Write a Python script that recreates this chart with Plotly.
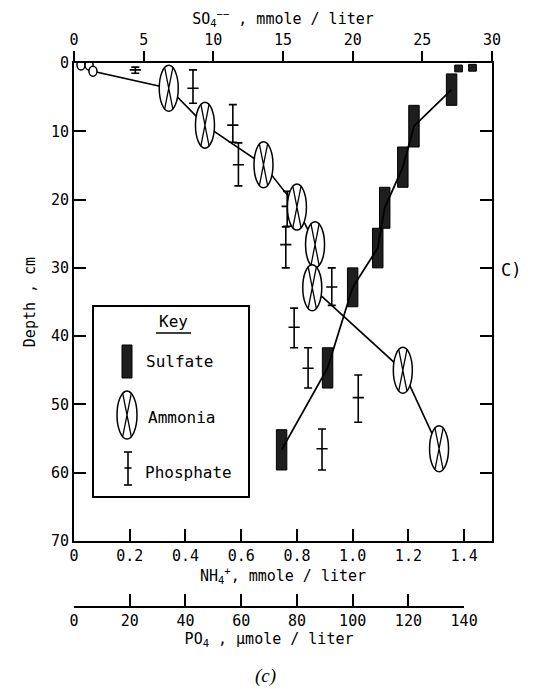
import plotly.graph_objects as go

# ---------------- data ----------------
# Ammonia (NH4+, mmole/liter) vs depth (cm)
nh4_depth = [0.3, 0.3, 1.2, 3.7, 9.1, 14.9, 21.1, 26.6, 32.9, 45.0, 56.5]
nh4_conc = [0.025, 0.054, 0.068, 0.34, 0.47, 0.68, 0.80, 0.865, 0.855, 1.18, 1.31]

# Sulfate (SO4--, mmole/liter): depth intervals of each core section
so4_top = [0.2, 0.3, 1.6, 6.2, 12.3, 18.2, 24.2, 30.0, 41.7, 53.7]
so4_bottom = [1.2, 1.3, 6.2, 12.3, 18.2, 24.2, 30.0, 35.7, 47.6, 59.6]
so4_conc = [28.6, 27.6, 27.1, 24.4, 23.6, 22.3, 21.8, 20.0, 18.2, 14.9]

# Phosphate (PO4, umole/liter): value, depth and depth range
po4_conc = [22, 42.7, 57, 59, 76.5, 76, 92.5, 79, 84, 102, 89]
po4_depth = [1.0, 3.7, 9.1, 14.9, 21.0, 26.6, 32.8, 38.7, 44.7, 49.0, 56.5]
po4_top = [0.6, 1.0, 6.1, 11.7, 18.8, 24.0, 30.0, 35.9, 41.7, 45.7, 53.6]
po4_bottom = [1.5, 5.9, 11.6, 18.0, 23.9, 30.0, 35.5, 41.7, 47.6, 52.6, 59.6]

# tick labels
depth_ticks = [0, 10, 20, 30, 40, 50, 60, 70]
nh4_ticks = [0, 0.2, 0.4, 0.6, 0.8, 1.0, 1.2, 1.4]
nh4_ticklabels = ["0", "0.2", "0.4", "0.6", "0.8", "1.0", "1.2", "1.4"]
so4_ticks = [0, 5, 10, 15, 20, 25, 30]
po4_ticks = [0, 20, 40, 60, 80, 100, 120, 140]

# ---------------- figure ----------------
OFF = 8                              # page body margin of the browser
W, H = 541 - OFF, 689 - OFF
L, R, T, B = 74, 492, 63, 607        # plot-area box in window pixels
MAIN_BOTTOM = 541                    # bottom of the depth axis
FONT = "DejaVu Sans Mono"

def paper(px, py):
    return (px - L) / (R - L), (B - py) / (B - T)

fig = go.Figure()

# ammonia connecting line
fig.add_trace(go.Scatter(
    x=nh4_conc, y=nh4_depth, mode="lines", xaxis="x", yaxis="y",
    line=dict(color="black", width=1.6), showlegend=False, hoverinfo="skip"))

# sulfate connecting line (through section mid-depths)
so4_mid = [(t + b) / 2 for t, b in zip(so4_top, so4_bottom)]
fig.add_trace(go.Scatter(
    x=so4_conc[2:], y=so4_mid[2:], mode="lines", xaxis="x2", yaxis="y",
    line=dict(color="black", width=1.8), showlegend=False, hoverinfo="skip"))

# sulfate bars
fig.add_trace(go.Bar(
    x=so4_conc, y=[b - t for t, b in zip(so4_top, so4_bottom)], base=so4_top,
    width=[0.55 if (b - t) < 2 else 0.75 for t, b in zip(so4_top, so4_bottom)],
    marker=dict(color="#1e1e1e", line=dict(color="black", width=1)),
    xaxis="x2", yaxis="y", showlegend=False, hoverinfo="skip"))

# phosphate error bars
fig.add_trace(go.Scatter(
    x=po4_conc, y=po4_depth, mode="markers", xaxis="x3", yaxis="y",
    marker=dict(symbol="line-ew", size=8, color="black",
                line=dict(width=1.6, color="black")),
    error_y=dict(type="data", symmetric=False,
                 array=[b - d for d, b in zip(po4_depth, po4_bottom)],
                 arrayminus=[d - t for d, t in zip(po4_depth, po4_top)],
                 color="black", thickness=1.6, width=4),
    showlegend=False, hoverinfo="skip"))

shapes = []

def ellipse_shapes(xref, yref, xa, ya, w, h, cross=True):
    out = [dict(type="circle", xref=xref, yref=yref, xsizemode="pixel",
                ysizemode="pixel", xanchor=xa, yanchor=ya,
                x0=-w / 2, x1=w / 2, y0=-h / 2, y1=h / 2,
                fillcolor="white", line=dict(color="black", width=1.5),
                layer="above")]
    if cross:
        a, b = w * 0.22, h * 0.46
        out.append(dict(type="path", xref=xref, yref=yref, xsizemode="pixel",
                        ysizemode="pixel", xanchor=xa, yanchor=ya,
                        path=f"M {-a},{b} L {a},{-b} M {a},{b} L {-a},{-b}",
                        line=dict(color="black", width=1.3), layer="above"))
    return out

for c, d in zip(nh4_conc, nh4_depth):
    if d < 2:
        shapes += ellipse_shapes("x", "y", c, d, 8, 10, cross=False)
    else:
        shapes += ellipse_shapes("x", "y", c, d, 19, 46)

# ---- Key box ----
x0, y1 = paper(93, 306)
x1, y0 = paper(249, 497)
shapes.append(dict(type="rect", xref="paper", yref="paper", x0=x0, x1=x1,
                   y0=y0, y1=y1, line=dict(color="black", width=2),
                   fillcolor="white", layer="above"))
ux0, uy = paper(156, 333)
ux1, _ = paper(191, 333)
shapes.append(dict(type="line", xref="paper", yref="paper", x0=ux0, x1=ux1,
                   y0=uy, y1=uy, line=dict(color="black", width=1.5),
                   layer="above"))
# sulfate symbol
sx0, sy1 = paper(122, 345)
sx1, sy0 = paper(132, 378)
shapes.append(dict(type="rect", xref="paper", yref="paper", x0=sx0, x1=sx1,
                   y0=sy0, y1=sy1, fillcolor="#1e1e1e",
                   line=dict(color="black", width=1), layer="above"))
# ammonia symbol
ex, ey = paper(127, 415)
shapes += ellipse_shapes("paper", "paper", ex, ey, 20, 48)
# phosphate symbol
px_, py0 = paper(128, 485)
_, py1 = paper(128, 452)
_, pym = paper(128, 468)
for yy, hw in [(py0, 4), (py1, 4), (pym, 3.5)]:
    shapes.append(dict(type="line", xref="paper", yref="paper",
                       xsizemode="pixel", xanchor=px_, x0=-hw, x1=hw,
                       y0=yy, y1=yy, line=dict(color="black", width=1.6),
                       layer="above"))
shapes.append(dict(type="line", xref="paper", yref="paper", x0=px_, x1=px_,
                   y0=py0, y1=py1, line=dict(color="black", width=1.6),
                   layer="above"))

annotations = []
def label(text, px, py, size=16, xanchor="left", family=FONT):
    ax, ay = paper(px, py)
    annotations.append(dict(text=text, x=ax, y=ay, xref="paper", yref="paper",
                            xanchor=xanchor, yanchor="middle", showarrow=False,
                            font=dict(family=family, size=size, color="black")))

label("Key", 173, 321, size=16, xanchor="center")
label("Sulfate", 144, 362)
label("Ammonia", 146, 417)
label("Phosphate", 143, 472)
label("C)", 511, 270, size=17, xanchor="center")
label("<i>(c)</i>", 265, 676, size=19, xanchor="center", family="Liberation Serif")

axis_common = dict(showgrid=False, zeroline=False, showline=True,
                   linecolor="black", tickcolor="black",
                   tickfont=dict(family=FONT, size=15, color="black"))
title_font = dict(family=FONT, size=15, color="black")

ydom0 = (B - MAIN_BOTTOM) / (B - T)

fig.update_layout(
    width=W, height=H,
    margin=dict(l=L - OFF, r=(541 - R), t=T - OFF, b=689 - B, pad=0,
                autoexpand=False),
    paper_bgcolor="white", plot_bgcolor="rgba(0,0,0,0)",
    barmode="overlay", showlegend=False,
    font=dict(family=FONT, color="black"),
    xaxis=dict(**axis_common, domain=[0, 1], range=[0, 1.5], anchor="y",
               tickvals=nh4_ticks, ticktext=nh4_ticklabels, ticks="inside",
               ticklen=12, tickwidth=1.5, linewidth=2, mirror=False,
               title=dict(text="NH<sub>4</sub><sup>+</sup>, mmole / liter",
                          font=title_font, standoff=4)),
    xaxis2=dict(**axis_common, range=[0, 30], overlaying="x", side="top",
                anchor="y", tickvals=so4_ticks, ticks="outside", ticklen=10,
                tickwidth=1.5, linewidth=2,
                title=dict(text="SO<sub>4</sub><sup>−−</sup> , mmole / liter",
                           font=title_font, standoff=4)),
    xaxis3=dict(**axis_common, domain=[0, 140 / 150], range=[0, 140],
                anchor="free", position=0, tickvals=po4_ticks,
                ticks="inside", ticklen=12, tickwidth=1.5, linewidth=1.5,
                title=dict(text="PO<sub>4</sub> , μmole / liter",
                           font=title_font, standoff=4)),
    yaxis=dict(**axis_common, domain=[ydom0, 1], range=[70, 0], anchor="x",
               tickvals=depth_ticks, ticks="inside", ticklen=12,
               tickwidth=1.5, linewidth=2, mirror="ticks",
               title=dict(text="Depth , cm", font=title_font, standoff=12)),
    shapes=shapes, annotations=annotations,
)

fig.write_html("out.html")
